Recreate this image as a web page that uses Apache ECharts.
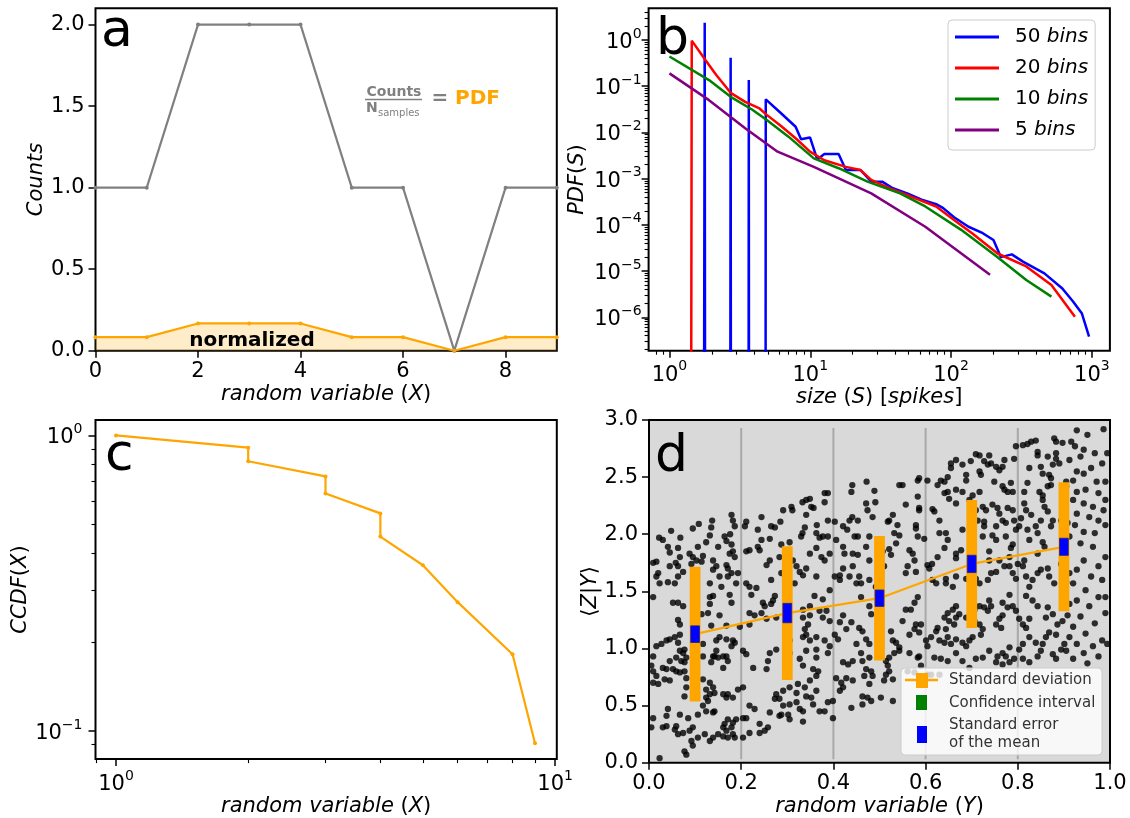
<!DOCTYPE html>
<html><head><meta charset="utf-8">
<script src="https://cdn.jsdelivr.net/npm/echarts@6/dist/echarts.min.js"></script>
<style>html,body{margin:0;padding:0;background:#fff}#c{width:1130px;height:818px}</style>
</head><body><div id="c"></div>
<script>
// ---------- Panel a ----------
const xA = [0,1,2,3,4,5,6,7,8,9];
const countsA = [1,1,2,2,2,1,1,0,1,1];
const pdfA = [0.083,0.083,0.167,0.167,0.167,0.083,0.083,0,0.083,0.083];
const aXTicks = [0,2,4,6,8];
const aYTicks = [0,0.5,1,1.5,2];
// ---------- Panel b (size S, PDF) ; 1e-300 = empty bin clipped on log axis ----------
const blue50 = [[1.2,1e-300],[1.78,2.37],[2.2,1e-300],[2.72,0.415],[3.2,1e-300],[3.66,0.136],[4.2,1e-300],[4.83,0.052],[6.2,0.026],[7.87,0.0133],[8.6,0.0071],[9.96,0.0078],[11.2,0.0026],[12.6,0.0034],[15.9,0.0034],[17.9,0.00154],[22.7,0.00154],[27.1,0.00086],[32.4,0.00086],[38.6,0.00062],[48.8,0.00048],[61.8,0.00035],[78.4,0.00028],[88,0.00023],[105,0.000146],[133,9.1e-5],[168,6.6e-5],[200,4.7e-5],[226,2.0e-5],[270,2.3e-5],[324,1.6e-5],[460,8.9e-6],[617,4.2e-6],[735,2.2e-6],[850,1.2e-6],[955,3.8e-7]];
const red20 = [[1.0,1e-300],[1.44,0.97],[1.80,0.37],[2.15,0.175],[2.72,0.072],[3.45,0.046],[4.36,0.033],[4.91,0.024],[6.2,0.0138],[7.87,0.0075],[9.96,0.00384],[12.6,0.0025],[17.9,0.0018],[22.7,0.00154],[27.1,0.00094],[36.4,0.00062],[51.8,0.00041],[78.4,0.00025],[105,0.000128],[141,6.6e-5],[214,2.4e-5],[342,1.26e-5],[516,5e-6],[617,2.4e-6],[758,1.03e-6]];
const green10 = [[1.0,0.44],[1.91,0.136],[2.72,0.059],[3.88,0.031],[4.91,0.0186],[7.0,0.0081],[10.6,0.00275],[15.9,0.00168],[25.5,0.00086],[43.4,0.00048],[65.6,0.00025],[118,7.8e-5],[214,2.0e-5],[342,6.4e-6],[516,2.8e-6]];
const purple5 = [[1.0,0.19],[1.91,0.05],[3.45,0.0123],[5.86,0.00384],[10.6,0.0018],[27.1,0.00048],[65.6,9.1e-5],[189,8.3e-6]];
const bMajorX = [0,1,2,3];
const bMajorY = [-6,-5,-4,-3,-2,-1,0];
// ---------- Panel c ----------
const xC = [1,2,2,3,3,4,4,5,6,8,9];
const ccdfC = [1.0,0.909,0.818,0.727,0.636,0.545,0.455,0.364,0.273,0.182,0.091];
const cMajorX = [0,1];
const cMajorY = [-1,0];
// ---------- Panel d ----------
const binCenters = [0.1,0.3,0.5,0.7,0.9];
const binMeans = [1.125,1.31,1.44,1.74,1.89];
const binSD = [0.59,0.585,0.545,0.56,0.565];
const binSEM = [0.073,0.085,0.072,0.076,0.075];
const binEdges = [0.2,0.4,0.6,0.8];
const edgeSpan = [0.03,2.93];
const dXTicks = [0,0.2,0.4,0.6,0.8,1.0];
const dYTicks = [0,0.5,1,1.5,2,2.5,3];
const scatterYZ = [
[.441,2.43],[.439,2.37],[.381,2.36],[.388,2.36],[.381,2.28],[.341,2.30],[.349,2.31],[.333,2.28],[.352,2.24],[.357,2.23],[.309,2.24],[.311,2.21],[.291,2.21],[.341,2.17],[.441,2.15],[.435,2.12],[.388,2.12],[.403,2.11],[.421,2.07],[.430,2.04],[.446,1.98],[.364,2.08],[.338,2.06],[.333,2.01],[.330,1.98],[.363,2.01],[.370,1.97],[.377,1.98],[.388,1.98],[.285,2.11],[.265,2.07],[.273,2.06],[.244,2.15],[.236,2.04],[.211,2.11],[.208,2.07],[.179,2.17],[.182,2.12],[.186,2.07],[.176,2.00],[.137,2.12],[.135,2.06],[.108,2.09],[.095,2.05],[.048,2.03],[.022,1.97],[.030,1.95],[.068,1.97],[.132,1.99],[.164,1.98],[.168,1.94],[.179,1.91],[.150,1.89],[.124,1.93],[.106,1.89],[.088,1.83],[.095,1.80],[.063,1.88],[.041,1.89],[.045,1.84],[.009,1.75],[.016,1.76],[.058,1.75],[.067,1.80],[.063,1.72],[.045,1.72],[.074,1.67],[.020,1.66],[.016,1.63],[.023,1.57],[.041,1.58],[.063,1.63],[.056,1.57],[.092,1.74],[.103,1.77],[.114,1.76],[.117,1.81],[.139,1.77],[.146,1.72],[.139,1.69],[.175,1.83],[.182,1.85],[.186,1.80],[.168,1.73],[.171,1.70],[.179,1.66],[.171,1.63],[.193,1.66],[.153,1.63],[.132,1.57],[.157,1.54],[.189,1.57],[.211,1.57],[.218,1.54],[.211,1.85],[.218,1.86],[.236,1.89],[.240,1.86],[.244,1.95],[.262,1.96],[.262,1.77],[.255,1.73],[.305,1.93],[.287,1.91],[.283,1.80],[.312,1.77],[.320,1.72],[.327,1.67],[.341,1.70],[.349,1.83],[.363,1.88],[.374,1.80],[.381,1.77],[.392,1.83],[.363,1.63],[.334,1.64],[.316,1.57],[.287,1.66],[.265,1.60],[.233,1.53],[.406,1.95],[.421,1.89],[.424,1.83],[.442,1.83],[.442,1.72],[.421,1.70],[.414,1.64],[.414,1.60],[.403,1.63],[.392,1.51],[.435,1.63],[.450,1.57],
[.472,2.46],[.489,2.38],[.491,2.28],[.471,2.27],[.474,2.21],[.485,2.15],[.453,2.12],[.521,2.12],[.529,2.17],[.518,2.11],[.539,2.08],[.532,2.01],[.543,1.99],[.536,1.92],[.453,1.98],[.478,1.98],[.471,1.89],[.507,1.85],[.521,1.87],[.525,1.82],[.453,1.82],[.478,1.77],[.510,1.72],[.456,1.63],[.460,1.57],[.478,1.60],[.492,1.54],[.543,2.43],[.550,2.43],[.583,2.47],[.586,2.49],[.583,2.33],[.586,2.21],[.557,2.26],[.579,2.08],[.579,2.05],[.565,1.86],[.572,1.83],[.576,1.77],[.561,1.72],[.557,1.66],[.579,1.67],[.604,1.73],[.614,1.74],[.623,1.57],[.626,1.80],[.615,2.22],[.619,2.20],[.604,2.47],[.626,2.43],[.633,2.47],[.641,2.46],[.648,2.50],[.655,2.62],[.655,2.58],[.666,2.65],[.680,2.61],[.688,2.52],[.688,2.47],[.698,2.64],[.717,2.69],[.709,2.70],[.738,2.69],[.727,2.64],[.735,2.61],[.742,2.62],[.717,2.55],[.720,2.52],[.753,2.59],[.760,2.56],[.767,2.59],[.771,2.65],[.749,2.46],[.767,2.42],[.785,2.45],[.778,2.37],[.789,2.37],[.771,2.39],[.717,2.37],[.702,2.34],[.680,2.37],[.666,2.39],[.648,2.37],[.641,2.36],[.651,2.31],[.666,2.27],[.695,2.30],[.709,2.21],[.724,2.24],[.731,2.21],[.745,2.26],[.756,2.23],[.760,2.18],[.778,2.23],[.789,2.21],[.767,2.12],[.774,2.10],[.792,2.12],[.796,2.04],[.803,2.07],[.807,2.14],[.630,2.12],[.644,2.01],[.648,1.95],[.641,1.88],[.666,1.83],[.666,1.79],[.677,1.86],[.680,2.04],[.713,2.12],[.727,2.11],[.727,2.07],[.724,1.98],[.753,2.07],[.745,1.99],[.753,1.95],[.774,1.98],[.789,1.91],[.785,1.88],[.738,1.85],[.738,1.77],[.760,1.77],[.782,1.80],[.771,1.72],[.782,1.72],[.789,1.66],[.800,1.74],[.814,1.77],[.811,1.72],[.818,1.63],[.796,1.61],[.753,1.67],[.742,1.66],[.735,1.60],[.717,1.57],[.709,1.61],[.688,1.61],[.666,1.63],[.644,1.61],[.644,1.57],[.659,1.54],[.615,1.60],[.796,2.77],[.811,2.78],[.821,2.79],[.829,2.81],[.839,2.82],[.879,2.84],[.883,2.81],[.897,2.80],[.843,2.72],[.843,2.69],[.865,2.68],[.883,2.71],[.883,2.66],[.890,2.62],[.876,2.61],[.850,2.59],[.825,2.58],[.821,2.45],[.814,2.37],[.847,2.37],[.854,2.34],[.865,2.42],[.872,2.43],[.868,2.52],[.872,2.49],[.854,2.53],[.854,2.30],[.858,2.24],[.865,2.20],[.876,2.12],[.850,2.12],[.829,2.17],[.818,2.21],[.839,2.07],[.843,2.01],[.821,2.04],[.825,1.95],[.854,1.93],[.858,1.89],[.843,1.83],[.850,1.69],[.843,1.66],[.865,1.70],[.868,1.63],[.832,1.60],[.825,1.54],[.879,1.57],[.872,2.07],[.912,2.65],[.905,2.46],[.905,2.42],[.901,2.24],[.894,2.12],[.908,2.10],[.912,1.98],[.894,1.74],[.912,1.66],[.905,1.58],[.792,2.66],[.814,2.27],[.583,1.98],[.608,1.70],[.597,1.96],[.586,2.23],[.630,2.01],
[.009,1.45],[.052,1.40],[.063,1.40],[.074,1.37],[.132,1.45],[.139,1.46],[.175,1.47],[.132,1.39],[.128,1.31],[.114,1.30],[.063,1.25],[.067,1.21],[.153,1.29],[.179,1.40],[.222,1.47],[.247,1.40],[.251,1.37],[.265,1.39],[.269,1.42],[.273,1.46],[.218,1.31],[.229,1.29],[.244,1.31],[.255,1.26],[.276,1.27],[.218,1.21],[.197,1.19],[.168,1.20],[.135,1.20],[.153,1.10],[.146,1.07],[.168,1.08],[.182,1.07],[.179,1.02],[.186,1.05],[.146,0.98],[.142,0.93],[.150,0.92],[.161,0.93],[.168,0.93],[.171,0.89],[.161,0.83],[.135,0.88],[.139,0.93],[.117,0.93],[.117,1.04],[.067,1.12],[.056,1.10],[.045,1.08],[.038,1.07],[.027,1.04],[.016,1.02],[.063,1.05],[.077,0.99],[.067,0.98],[.074,0.96],[.059,0.92],[.045,0.89],[.070,0.89],[.077,0.88],[.081,0.92],[.009,0.93],[.005,0.85],[.009,0.80],[.030,0.83],[.038,0.82],[.052,0.82],[.059,0.80],[.067,0.79],[.077,0.80],[.016,0.76],[.009,0.70],[.020,0.69],[.034,0.73],[.045,0.72],[.081,0.74],[.081,0.66],[.077,0.58],[.117,0.73],[.132,0.70],[.124,0.64],[.139,0.66],[.142,0.61],[.132,0.60],[.124,0.57],[.128,0.54],[.161,0.60],[.171,0.60],[.168,0.57],[.182,0.57],[.193,0.64],[.204,0.66],[.204,0.98],[.211,0.95],[.226,0.83],[.255,0.82],[.258,0.89],[.262,0.96],[.276,0.99],[.305,0.96],[.305,1.07],[.334,1.10],[.341,1.12],[.349,1.07],[.363,1.10],[.338,1.17],[.345,1.21],[.334,1.27],[.349,1.29],[.334,1.34],[.349,1.37],[.359,1.46],[.377,1.43],[.370,1.33],[.385,1.33],[.377,1.27],[.392,1.24],[.414,1.23],[.421,1.29],[.439,1.23],[.428,1.17],[.403,1.12],[.410,1.08],[.381,1.07],[.392,1.02],[.388,0.96],[.363,0.99],[.341,0.98],[.363,0.92],[.327,0.91],[.334,0.85],[.356,0.82],[.367,0.80],[.363,0.76],[.349,0.72],[.338,0.66],[.323,0.69],[.320,0.61],[.305,0.66],[.291,0.63],[.276,0.60],[.273,0.56],[.283,0.56],[.291,0.50],[.302,0.42],[.305,0.38],[.283,0.41],[.262,0.44],[.240,0.34],[.251,0.28],[.240,0.26],[.258,0.31],[.218,0.50],[.229,0.47],[.211,0.39],[.189,0.38],[.182,0.35],[.171,0.38],[.164,0.34],[.161,0.31],[.168,0.28],[.179,0.31],[.182,0.25],[.186,0.22],[.171,0.22],[.161,0.23],[.150,0.25],[.139,0.22],[.132,0.19],[.121,0.25],[.106,0.22],[.095,0.31],[.088,0.28],[.092,0.19],[.095,0.15],[.081,0.07],[.077,0.10],[.074,0.26],[.063,0.25],[.056,0.29],[.059,0.32],[.038,0.32],[.030,0.31],[.041,0.47],[.038,0.41],[.067,0.42],[.085,0.39],[.106,0.42],[.124,0.45],[.139,0.44],[.142,0.45],[.117,0.50],[.009,0.39],[.005,0.31],[.023,0.04],[.204,0.39],[.204,0.22],[.218,0.26],[.334,0.36],[.320,0.53],[.341,0.58],[.356,0.51],[.370,0.45],[.381,0.45],[.388,0.53],[.399,0.54],[.399,0.39],[.414,0.63],[.421,0.66],[.417,0.70],[.406,0.74],[.428,0.74],[.442,0.72],[.439,0.48],[.421,0.88],[.432,0.86],[.442,0.89],[.450,1.04],[.334,0.45],[.327,0.47],[.363,0.63],[.352,0.57],[.287,0.42],[.305,0.51],
[.460,1.45],[.478,1.37],[.482,1.30],[.456,1.18],[.463,1.15],[.471,1.08],[.478,1.04],[.460,0.96],[.463,0.89],[.478,0.92],[.471,0.82],[.482,0.80],[.485,0.76],[.467,0.76],[.478,0.69],[.463,0.58],[.474,0.57],[.463,0.51],[.482,0.54],[.503,0.57],[.529,0.54],[.521,0.80],[.514,0.77],[.529,0.73],[.510,0.72],[.518,0.85],[.514,0.89],[.521,0.92],[.532,0.96],[.543,1.01],[.536,1.05],[.525,1.15],[.529,1.07],[.550,1.24],[.557,1.34],[.568,1.34],[.576,1.40],[.583,1.45],[.579,1.21],[.576,1.17],[.586,1.14],[.590,1.21],[.565,1.12],[.543,0.98],[.565,0.96],[.583,0.92],[.586,0.93],[.590,0.85],[.601,1.07],[.604,1.02],[.612,1.10],[.630,1.07],[.641,1.05],[.648,1.10],[.655,1.04],[.666,1.08],[.680,1.05],[.688,1.02],[.695,1.07],[.702,1.10],[.623,1.15],[.626,1.18],[.644,1.17],[.651,1.24],[.641,1.27],[.648,1.31],[.659,1.34],[.666,1.37],[.662,1.21],[.666,1.27],[.673,1.30],[.688,1.27],[.706,1.24],[.717,1.21],[.724,1.17],[.720,1.12],[.706,1.34],[.717,1.37],[.727,1.36],[.735,1.33],[.738,1.42],[.742,1.37],[.753,1.21],[.760,1.26],[.767,1.29],[.764,1.18],[.767,1.40],[.782,1.47],[.778,1.36],[.789,1.37],[.796,1.33],[.803,1.26],[.811,1.21],[.818,1.18],[.825,1.26],[.818,1.46],[.832,1.42],[.843,1.37],[.865,1.36],[.876,1.30],[.861,1.27],[.886,1.21],[.897,1.24],[.908,1.29],[.883,1.12],[.868,1.14],[.861,1.10],[.854,1.04],[.839,1.05],[.825,1.10],[.811,1.04],[.803,0.99],[.782,1.01],[.767,0.96],[.774,0.93],[.756,0.93],[.753,0.88],[.767,0.86],[.782,0.88],[.792,0.91],[.811,0.91],[.825,0.88],[.843,0.93],[.850,0.98],[.876,0.95],[.883,0.91],[.894,0.99],[.901,1.04],[.912,1.10],[.905,0.98],[.912,1.39],[.619,0.92],[.633,0.91],[.648,0.89],[.680,0.89],[.695,0.83],[.709,0.91],[.724,0.92],[.738,0.98],[.666,0.96],[.612,0.77],[.630,0.77],[.561,0.80],[.576,0.79],[.604,0.77],
[.928,2.91],[.951,2.87],[.986,2.92],[.916,2.81],[.924,2.77],[.943,2.74],[.936,2.68],[.967,2.71],[.994,2.71],[.983,2.62],[.959,2.58],[.928,2.55],[.943,2.53],[.920,2.47],[.971,2.46],[.990,2.46],[.928,2.37],[.947,2.39],[.975,2.36],[.920,2.30],[.943,2.27],[.963,2.24],[.990,2.30],[.986,2.21],[.928,2.18],[.955,2.15],[.975,2.12],[.990,2.08],[.924,2.08],[.943,2.02],[.967,2.01],[.936,1.92],[.963,1.89],[.990,1.80],[.975,1.72],[.943,1.77],[.928,1.69],[.959,1.63],[.983,1.60],[.920,1.57],[.947,1.51],[.975,1.45],[.990,1.45],[.928,1.42],[.955,1.37],[.990,1.31],[.936,1.28],[.967,1.22],[.920,1.19],[.947,1.13],[.983,1.07],[.994,1.04],[.928,1.04],[.963,1.02],[.943,0.96],[.920,0.91],[.975,0.93],[.951,0.87]
];

// ---------- helpers (styling only) ----------
const FF = "'DejaVu Sans', sans-serif";
const TICK_FS = 21, NAME_FS = 21;
const zip = (a, b) => a.map((v, i) => [v, b[i]]);
function minorLogs(lo, hi) {
  const out = [];
  for (let e = Math.floor(Math.log10(lo)) - 1; e <= Math.ceil(Math.log10(hi)); e++) {
    for (let k = 2; k <= 9; k++) { const v = k * Math.pow(10, e); if (v >= lo && v <= hi) out.push(Math.log10(v)); }
  }
  return out;
}
function pow10Label(v) { const n = Math.round(v); return '{b|10}{s|' + (n < 0 ? '\u2212' + (-n) : String(n)) + '}'; }
const powRich = {
  b: {fontSize: 21, fontFamily: FF, color: '#000', lineHeight: 26, verticalAlign: 'bottom'},
  s: {fontSize: 14, fontFamily: FF, color: '#000', lineHeight: 14, verticalAlign: 'top'}
};
const nameStyle = {fontSize: NAME_FS, fontFamily: FF, color: '#000', rich: {i: {fontStyle: 'italic', fontSize: NAME_FS, fontFamily: FF, color: '#000'}}};
const tickStyle = {color: '#000', width: 1.5};
const noLine = {show: false, onZero: false};

// axis ranges
const bX = [0.711, 1343], bY = [1.89e-7, 4.86];
const cX = [0.898, 10.09], cY = [0.0804, 1.128];

function linAxis(grid, min, max, ticks, fmt, name, gap, margin) {
  return {
    gridIndex: grid, type: 'value', min: min, max: max,
    axisLine: noLine, splitLine: {show: false},
    axisTick: {customValues: ticks, length: 7, lineStyle: tickStyle},
    axisLabel: {customValues: ticks, formatter: fmt, fontSize: TICK_FS, fontFamily: FF, color: '#000', margin: margin},
    name: name, nameLocation: 'middle', nameGap: gap, nameTextStyle: nameStyle
  };
}
function logDataAxis(grid, range) {
  return {gridIndex: grid, type: 'log', logBase: 10, min: range[0], max: range[1], show: false,
          axisLine: noLine, splitLine: {show: false}};
}
function logMajorAxis(grid, range, ticks, name, gap, margin, pos) {
  return {
    gridIndex: grid, type: 'value', position: pos, min: Math.log10(range[0]), max: Math.log10(range[1]),
    axisLine: noLine, splitLine: {show: false},
    axisTick: {customValues: ticks, length: 7, lineStyle: tickStyle},
    axisLabel: {customValues: ticks, formatter: pow10Label, rich: powRich, margin: margin},
    name: name, nameLocation: 'middle', nameGap: gap, nameTextStyle: nameStyle
  };
}
function logMinorAxis(grid, range, pos) {
  return {
    gridIndex: grid, type: 'value', position: pos, min: Math.log10(range[0]), max: Math.log10(range[1]),
    axisLine: noLine, splitLine: {show: false},
    axisTick: {customValues: minorLogs(range[0], range[1]), length: 4, lineStyle: {color: '#000', width: 1.1}},
    axisLabel: {show: false}
  };
}
const fmt1 = v => Number(v).toFixed(1);
const fmt0 = v => String(Math.round(v));

const chart = echarts.init(document.getElementById('c'), null, {renderer: 'canvas'});
const gridBase = {show: true, borderColor: '#000', borderWidth: 2, containLabel: false};
const option = {
  animation: false,
  textStyle: {fontFamily: FF},
  grid: [
    Object.assign({left: 95.5, top: 8.3, width: 461.3, height: 342.4, backgroundColor: '#fff'}, gridBase),
    Object.assign({left: 648.6, top: 8.3, width: 461.3, height: 342.4, backgroundColor: '#fff'}, gridBase),
    Object.assign({left: 95.5, top: 420, width: 461.3, height: 343.3, backgroundColor: '#fff'}, gridBase),
    Object.assign({left: 649, top: 420, width: 461, height: 342.7, backgroundColor: '#d9d9d9'}, gridBase)
  ],
  xAxis: [
    linAxis(0, 0, 9, aXTicks, fmt0, '{i|random variable} ({i|X})', 33, 10),
    logDataAxis(1, bX),
    logMajorAxis(1, bX, bMajorX, '{i|size} ({i|S}) [{i|spikes}]', 33, 9, 'bottom'),
    logMinorAxis(1, bX, 'bottom'),
    logDataAxis(2, cX),
    logMajorAxis(2, cX, cMajorX, '{i|random variable} ({i|X})', 33, 10, 'bottom'),
    logMinorAxis(2, cX, 'bottom'),
    linAxis(3, 0, 1, dXTicks, fmt1, '{i|random variable} ({i|Y})', 33, 10)
  ],
  yAxis: [
    linAxis(0, 0, 2.1, aYTicks, fmt1, '{i|Counts}', 47, 11),
    logDataAxis(1, bY),
    logMajorAxis(1, bY, bMajorY, '{i|PDF}({i|S})', 61, 7, 'left'),
    logMinorAxis(1, bY, 'left'),
    logDataAxis(2, cY),
    logMajorAxis(2, cY, cMajorY, '{i|CCDF}({i|X})', 62, 13, 'left'),
    logMinorAxis(2, cY, 'left'),
    linAxis(3, 0, 3, dYTicks, fmt1, '\u27E8{i|Z}|{i|Y}\u27E9', 46, 11)
  ],
  legend: {
    data: ['50 bins', '20 bins', '10 bins', '5 bins'],
    orient: 'vertical', left: 948, top: 20, icon: 'rect', itemWidth: 44, itemHeight: 3, itemGap: 7,
    padding: [5, 7, 8, 7], backgroundColor: 'rgba(255,255,255,0.8)', borderColor: '#cccccc', borderWidth: 1, borderRadius: 4,
    selectedMode: false,
    formatter: n => n.replace('bins', '{i|bins}'),
    textStyle: {fontSize: 20, fontFamily: FF, color: '#000', lineHeight: 24, padding: [0, 0, 0, 11],
      rich: {i: {fontStyle: 'italic', fontSize: 20, fontFamily: FF, color: '#000'}}}
  },
  series: [
    // panel a
    {type: 'line', xAxisIndex: 0, yAxisIndex: 0, data: zip(xA, countsA), color: '#808080',
     lineStyle: {width: 2.2, color: '#808080'}, symbol: 'circle', symbolSize: 4, itemStyle: {color: '#808080'}, z: 3},
    {type: 'line', xAxisIndex: 0, yAxisIndex: 0, data: zip(xA, pdfA), color: '#FFA500',
     lineStyle: {width: 2.2, color: '#FFA500'}, symbol: 'circle', symbolSize: 4, itemStyle: {color: '#FFA500'},
     areaStyle: {color: 'rgba(255,165,0,0.3)', origin: 'start'}, z: 3},
    // panel b
    {name: '50 bins', type: 'line', xAxisIndex: 1, yAxisIndex: 1, data: blue50, color: '#0000FF', symbol: 'none', lineStyle: {width: 2.5, color: '#0000FF'}, clip: true, z: 3},
    {name: '20 bins', type: 'line', xAxisIndex: 1, yAxisIndex: 1, data: red20, color: '#FF0000', symbol: 'none', lineStyle: {width: 2.5, color: '#FF0000'}, clip: true, z: 4},
    {name: '10 bins', type: 'line', xAxisIndex: 1, yAxisIndex: 1, data: green10, color: '#008000', symbol: 'none', lineStyle: {width: 2.5, color: '#008000'}, clip: true, z: 5},
    {name: '5 bins', type: 'line', xAxisIndex: 1, yAxisIndex: 1, data: purple5, color: '#800080', symbol: 'none', lineStyle: {width: 2.5, color: '#800080'}, clip: true, z: 6},
    // panel c
    {type: 'line', xAxisIndex: 4, yAxisIndex: 4, data: zip(xC, ccdfC), color: '#FFA500',
     lineStyle: {width: 2.2, color: '#FFA500'}, symbol: 'circle', symbolSize: 4, itemStyle: {color: '#FFA500'}, z: 3},
    // panel d
    {type: 'custom', xAxisIndex: 7, yAxisIndex: 7, data: binEdges, z: 1, silent: true,
     renderItem: (p, api) => {
       const a = api.coord([api.value(0), edgeSpan[0]]), b = api.coord([api.value(0), edgeSpan[1]]);
       return {type: 'line', shape: {x1: a[0], y1: a[1], x2: b[0], y2: b[1]}, style: {stroke: '#a8a8a8', lineWidth: 2}};
     }},
    {type: 'scatter', xAxisIndex: 7, yAxisIndex: 7, data: scatterYZ, symbolSize: 6.3, itemStyle: {color: '#000'}, z: 2, silent: true},
    {type: 'line', xAxisIndex: 7, yAxisIndex: 7, data: zip(binCenters, binMeans), symbol: 'none', lineStyle: {width: 2.2, color: '#FFA500'}, z: 4},
    {type: 'custom', xAxisIndex: 7, yAxisIndex: 7, z: 5,
     data: binCenters.map((x, i) => [x, binMeans[i], binSD[i], binSEM[i]]),
     renderItem: (p, api) => {
       const x = api.value(0), m = api.value(1), sd = api.value(2), se = api.value(3);
       const t = api.coord([x, m + sd]), b = api.coord([x, m - sd]);
       const st = api.coord([x, m + se]), sb = api.coord([x, m - se]);
       return {type: 'group', children: [
         {type: 'rect', shape: {x: t[0] - 5.4, y: t[1], width: 10.8, height: b[1] - t[1]}, style: {fill: '#FFA500'}},
         {type: 'rect', shape: {x: st[0] - 4.4, y: st[1], width: 8.8, height: sb[1] - st[1]}, style: {fill: '#0000FF', stroke: '#22228a', lineWidth: 0.8}}
       ]};
     }}
  ],
  graphic: [
    // panel letters
    {type: 'text', z: 100, style: {x: 101, y: 32, text: 'a', font: '52px ' + FF, fill: '#000', verticalAlign: 'middle'}},
    {type: 'text', z: 100, style: {x: 656, y: 40, text: 'b', font: '52px ' + FF, fill: '#000', verticalAlign: 'middle'}},
    {type: 'text', z: 100, style: {x: 105, y: 456, text: 'c', font: '52px ' + FF, fill: '#000', verticalAlign: 'middle'}},
    {type: 'text', z: 100, style: {x: 655, y: 457, text: 'd', font: '52px ' + FF, fill: '#000', verticalAlign: 'middle'}},
    // panel a annotations
    {type: 'text', z: 100, style: {x: 252, y: 341, text: 'normalized', font: 'bold 20px ' + FF, fill: '#000', align: 'center', verticalAlign: 'middle'}},
    {type: 'text', z: 100, style: {x: 394, y: 92, text: 'Counts', font: 'bold 14px ' + FF, fill: '#808080', align: 'center', verticalAlign: 'middle'}},
    {type: 'line', z: 100, shape: {x1: 365, y1: 99.5, x2: 422, y2: 99.5}, style: {stroke: '#808080', lineWidth: 1.4}},
    {type: 'text', z: 100, style: {x: 366, y: 108, text: 'N', font: 'bold 14px ' + FF, fill: '#808080', verticalAlign: 'middle'}},
    {type: 'text', z: 100, style: {x: 378, y: 113, text: 'samples', font: '10px ' + FF, fill: '#808080', verticalAlign: 'middle'}},
    {type: 'text', z: 100, style: {x: 440, y: 99, text: '=', font: 'bold 20px ' + FF, fill: '#808080', align: 'center', verticalAlign: 'middle'}},
    {type: 'text', z: 100, style: {x: 455, y: 99, text: 'PDF', font: 'bold 20px ' + FF, fill: '#FFA500', verticalAlign: 'middle'}},
    // panel d legend
    {type: 'rect', z: 100, shape: {x: 901, y: 668, width: 201, height: 87, r: 4}, style: {fill: 'rgba(255,255,255,0.8)', stroke: '#cccccc', lineWidth: 1}},
    {type: 'line', z: 101, shape: {x1: 905, y1: 680, x2: 938, y2: 680}, style: {stroke: '#FFA500', lineWidth: 2.5}},
    {type: 'rect', z: 101, shape: {x: 916, y: 673, width: 12, height: 15}, style: {fill: '#FFA500'}},
    {type: 'rect', z: 101, shape: {x: 916, y: 695, width: 11, height: 15}, style: {fill: '#008000'}},
    {type: 'rect', z: 101, shape: {x: 917, y: 726, width: 10, height: 17}, style: {fill: '#0000FF'}},
    {type: 'text', z: 101, style: {x: 949, y: 680, text: 'Standard deviation', font: '15px ' + FF, fill: '#333', verticalAlign: 'middle'}},
    {type: 'text', z: 101, style: {x: 949, y: 703, text: 'Confidence interval', font: '15px ' + FF, fill: '#333', verticalAlign: 'middle'}},
    {type: 'text', z: 101, style: {x: 949, y: 734, text: 'Standard error\nof the mean', font: '15px ' + FF, fill: '#333', verticalAlign: 'middle', lineHeight: 18}}
  ]
};
chart.setOption(option);
</script>
</body></html>
